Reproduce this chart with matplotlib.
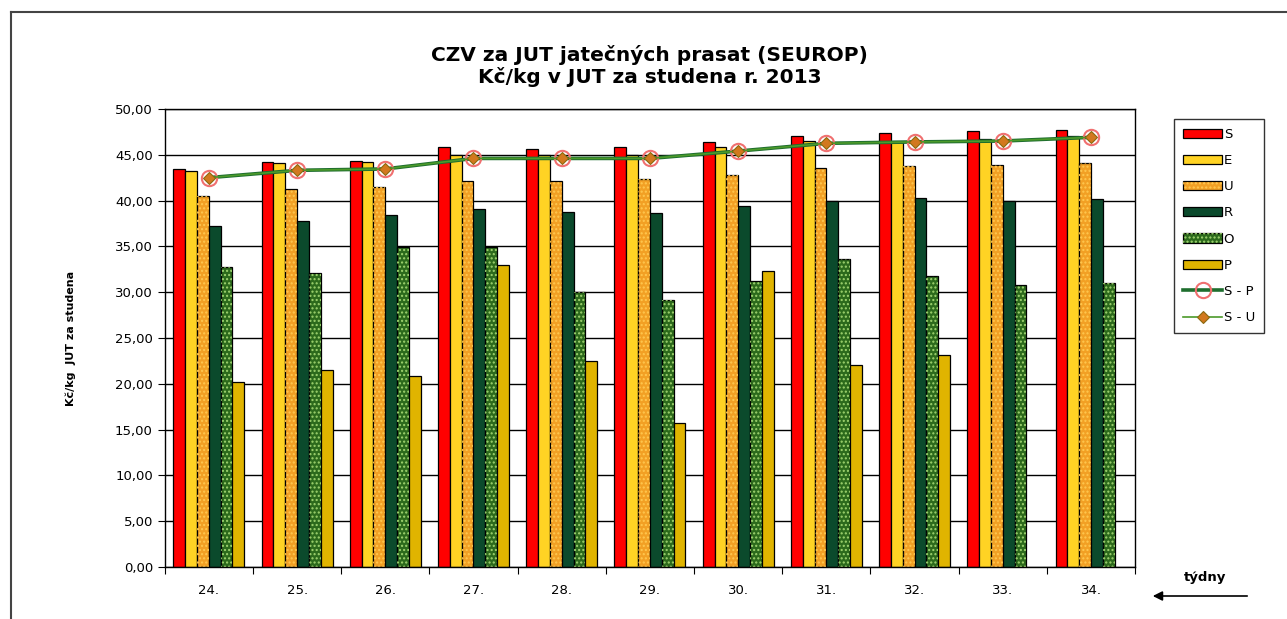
import numpy as np
import matplotlib
matplotlib.use("Agg")
import matplotlib.pyplot as plt
from matplotlib.legend_handler import HandlerTuple

plt.rcParams["font.family"] = ["DejaVu Sans"]
plt.rcParams["hatch.linewidth"] = 1.0

weeks = ["24.", "25.", "26.", "27.", "28.", "29.", "30.", "31.", "32.", "33.", "34."]
S = [43.4, 44.2, 44.3, 45.8, 45.6, 45.8, 46.4, 47.1, 47.4, 47.6, 47.7]
E = [43.2, 44.1, 44.2, 45.0, 45.0, 45.0, 45.8, 46.5, 46.4, 46.7, 47.1]
U = [40.5, 41.3, 41.5, 42.1, 42.1, 42.3, 42.8, 43.5, 43.8, 43.9, 44.1]
R = [37.2, 37.8, 38.4, 39.1, 38.8, 38.6, 39.4, 40.0, 40.3, 40.0, 40.2]
O = [32.8, 32.1, 34.9, 34.9, 30.0, 29.1, 31.2, 33.6, 31.8, 30.8, 31.0]
P = [20.2, 21.5, 20.9, 33.0, 22.5, 15.7, 32.3, 22.0, 23.1, np.nan, np.nan]
S_P = [42.5, 43.3, 43.45, 44.6, 44.6, 44.6, 45.4, 46.25, 46.4, 46.5, 46.9]
S_U = [42.5, 43.3, 43.45, 44.6, 44.6, 44.6, 45.4, 46.25, 46.4, 46.5, 46.9]

series = [
    ("S", S, "#FF0000", None),
    ("E", E, "#FFD324", None),
    ("U", U, "#F2A024", "#FFC850"),
    ("R", R, "#0B4A2C", None),
    ("O", O, "#2C6A1C", "#A0D470"),
    ("P", P, "#E0B400", None),
]

fig = plt.figure(figsize=(12.87, 6.19), dpi=100)
ax = fig.add_axes([0.128, 0.084, 0.754, 0.740])

x = np.arange(len(weeks))
w = 0.134
handles = []
for i, (name, vals, fc, dots) in enumerate(series):
    pos = x + (i - 2.5) * w
    base = ax.bar(pos, vals, w, color=fc, edgecolor="black", linewidth=0.9, zorder=2)
    if dots:
        hat = ax.bar(pos, vals, w, color="none", edgecolor=dots, hatch="....",
                     linewidth=0, zorder=2.5)
        handles.append(((base, hat), name))
    else:
        handles.append((base, name))

l1, = ax.plot(x, S_P, color="#1E6E2E", lw=2.6, marker="o", ms=11,
              mfc="none", mec="#F07070", mew=1.5, zorder=4)
l2, = ax.plot(x, S_U, color="#4C9A2A", lw=1.2, marker="D", ms=6,
              mfc="#D2781E", mec="#8A6A10", mew=0.8, zorder=5)
handles.append((l1, "S - P"))
handles.append((l2, "S - U"))

ax.set_xlim(-0.5, len(weeks) - 0.5)
ax.set_ylim(0, 50)
ax.set_yticks(np.arange(0, 51, 5))
ax.set_yticklabels([f"{v:.2f}".replace(".", ",") for v in np.arange(0, 51, 5)],
                   fontsize=9.5)
ax.yaxis.grid(True, color="black", lw=1.0, zorder=0)
ax.set_axisbelow(True)

ax.set_xticks(np.arange(-0.5, len(weeks)), labels=[])
ax.set_xticks(x, labels=weeks, minor=True)
ax.tick_params(axis="x", which="minor", length=0, labelsize=9.5, pad=12)
ax.tick_params(axis="x", which="major", length=5, direction="out")
ax.tick_params(axis="y", length=5, direction="out")
for sp in ax.spines.values():
    sp.set_linewidth(1.0)

ax.set_ylabel("Kč/kg  JUT za studena", fontsize=8, fontweight="bold", labelpad=28)

fig.text(0.505, 1 - 66 / 619, "CZV za JUT jatečných prasat (SEUROP)\nKč/kg v JUT za studena r. 2013",
         ha="center", va="center", fontsize=14.5, fontweight="bold", linespacing=1.1)

leg = fig.legend([h for h, _ in handles], [n for _, n in handles],
                 handler_map={tuple: HandlerTuple(ndivide=1)},
                 loc="upper left", bbox_to_anchor=(1167 / 1287, 1 - 112 / 619),
                 frameon=True, fancybox=False, edgecolor="black", fontsize=9.5,
                 handlelength=3.0, handleheight=0.7, handletextpad=0.1,
                 labelspacing=1.0, borderpad=0.7)
leg.get_frame().set_linewidth(1.0)

fig.text(1205 / 1287, 1 - 578 / 619, "týdny", ha="center", va="center",
         fontsize=9.5, fontweight="bold")
fig.add_artist(matplotlib.patches.FancyArrowPatch(
    (1250 / 1287, 1 - 596 / 619), (1150 / 1287, 1 - 596 / 619),
    transform=fig.transFigure, arrowstyle="-|>", mutation_scale=14,
    color="black", lw=1.2))

# outer chart frame (top and left edges visible)
fig.add_artist(plt.Line2D([11 / 1287, 11 / 1287], [0, 1 - 12 / 619],
                          transform=fig.transFigure, color="#444444", lw=1.5))
fig.add_artist(plt.Line2D([11 / 1287, 1], [1 - 12 / 619, 1 - 12 / 619],
                          transform=fig.transFigure, color="#444444", lw=1.5))

fig.savefig("out.png", dpi=100)
